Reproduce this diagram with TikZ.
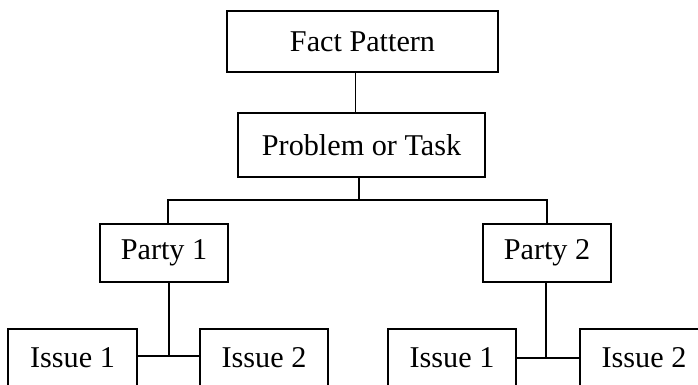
\documentclass[tikz,border=0pt]{standalone}
\usepackage{fontspec}
\setmainfont{Liberation Serif}
\begin{document}
\begin{tikzpicture}[x=1pt,y=-1pt,
  box/.style={draw=black, line width=1.9pt, inner sep=0pt, anchor=center,
    font=\fontsize{30.2}{35}\selectfont},
  link/.style={draw=black, line width=1.9pt}]
  \useasboundingbox (0,0) rectangle (698,384);
  \clip (0,0) rectangle (698,384);
  \fill[white] (0,0) rectangle (698,384);

  % boxes
  \node[box, minimum width=271pt, minimum height=61pt] (fact)  at (362.5,41.5) {Fact Pattern};
  \node[box, minimum width=247pt, minimum height=64pt] (prob)  at (361.5,145)  {Problem or Task};
  \node[box, minimum width=128pt, minimum height=58pt] (p1)    at (164,253)    {Party 1};
  \node[box, minimum width=128pt, minimum height=58pt] (p2)    at (547,253)    {Party 2};
  \node[box, minimum width=129pt, minimum height=58pt] (i11)   at (72.5,358)   {Issue 1};
  \node[box, minimum width=128pt, minimum height=58pt] (i12)   at (264,358)    {Issue 2};
  \node[box, minimum width=128pt, minimum height=58pt] (i21)   at (452,358)    {Issue 1};
  \node[box, minimum width=128pt, minimum height=58pt] (i22)   at (644,358)    {Issue 2};

  % junction points
  \coordinate (fp) at ([xshift=-7pt]fact.south);
  \coordinate (pt) at ([xshift=-2.5pt]prob.south);
  \coordinate (bl) at (168,200);
  \coordinate (br) at (547,200);
  \coordinate (j1) at (169,356);
  \coordinate (j2) at (546,358);

  % connectors
  \draw[link] (fp) -- (fp |- prob.north);
  \draw[link] (pt) -- (pt |- bl);
  \draw[link] (bl |- p1.north) -- (bl) -- (br) -- (br |- p2.north);
  \draw[link] (j1 |- p1.south) -- (j1);
  \draw[link] (i11.east |- j1) -- (i12.west |- j1);
  \draw[link] (j2 |- p2.south) -- (j2);
  \draw[link] (i21.east |- j2) -- (i22.west |- j2);
\end{tikzpicture}
\end{document}
